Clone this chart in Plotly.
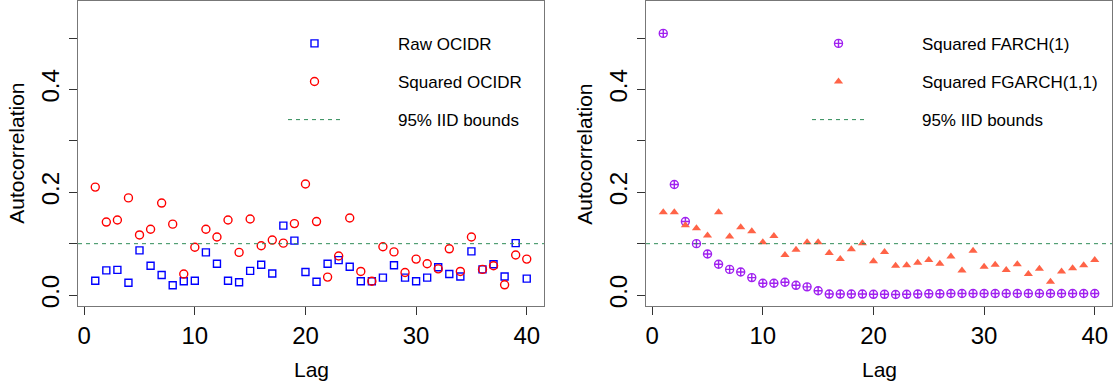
import plotly.graph_objects as go

lags = list(range(1, 41))

raw_ocidr = [0.028, 0.048, 0.049, 0.024, 0.087, 0.057, 0.039, 0.019, 0.027, 0.028,
             0.083, 0.061, 0.028, 0.025, 0.047, 0.059, 0.042, 0.135, 0.106, 0.045,
             0.026, 0.061, 0.068, 0.055, 0.027, 0.027, 0.034, 0.058, 0.034, 0.027,
             0.034, 0.054, 0.041, 0.036, 0.085, 0.050, 0.060, 0.036, 0.101, 0.032]

sq_ocidr = [0.210, 0.142, 0.146, 0.189, 0.117, 0.128, 0.179, 0.138, 0.041, 0.093,
            0.128, 0.113, 0.146, 0.083, 0.148, 0.096, 0.107, 0.101, 0.139, 0.216,
            0.143, 0.035, 0.076, 0.150, 0.046, 0.027, 0.094, 0.084, 0.044, 0.070,
            0.061, 0.051, 0.090, 0.046, 0.113, 0.050, 0.057, 0.020, 0.078, 0.070]

sq_farch = [0.509, 0.215, 0.143, 0.100, 0.080, 0.060, 0.050, 0.045, 0.034, 0.023,
            0.023, 0.025, 0.019, 0.016, 0.0085, 0.002, 0.002, 0.002, 0.002, 0.0015,
            0.0015, 0.0012, 0.0015, 0.002, 0.0025, 0.0025, 0.003, 0.003, 0.003, 0.003,
            0.003, 0.003, 0.003, 0.003, 0.003, 0.003, 0.003, 0.003, 0.003, 0.003]

sq_fgarch = [0.161, 0.161, 0.136, 0.130, 0.116, 0.161, 0.114, 0.132, 0.124, 0.103,
             0.115, 0.078, 0.088, 0.103, 0.103, 0.082, 0.070, 0.089, 0.101, 0.066,
             0.084, 0.057, 0.058, 0.063, 0.068, 0.061, 0.075, 0.048, 0.086, 0.055,
             0.059, 0.049, 0.060, 0.041, 0.051, 0.026, 0.046, 0.052, 0.058, 0.068]

iid_bound = 0.1

y_ticks = [0.0, 0.1, 0.2, 0.3, 0.4, 0.5]
y_ticktext = ["0.0", "", "0.2", "", "0.4", ""]
x_ticks = [0, 10, 20, 30, 40]

# R-style 4% extension of the data range
span = max(lags) - min(lags)
x_range = [min(lags) - 0.04 * span, max(lags) + 0.04 * span]
y_range = [0 - 0.04 * 0.55, 0.55 + 0.04 * 0.55]

W, H = 1113, 385
FONT = "Liberation Sans, Arial, Helvetica, sans-serif"
GREEN = "#2E8B57"
PAD = "\u00a0" * 11  # gap between legend symbol and label, as in the original

fig = go.Figure()

# Left panel
fig.add_trace(go.Scatter(x=lags, y=raw_ocidr, mode="markers", name=PAD + "Raw OCIDR",
                         marker=dict(symbol="square-open", size=7, color="#0000FF", line=dict(width=1.4)),
                         xaxis="x", yaxis="y", legend="legend", legendgroup="a1"))
fig.add_trace(go.Scatter(x=lags, y=sq_ocidr, mode="markers", name=PAD + "Squared OCIDR",
                         marker=dict(symbol="circle-open", size=8, color="#FF0000", line=dict(width=1.4)),
                         xaxis="x", yaxis="y", legend="legend", legendgroup="a2"))
fig.add_trace(go.Scatter(x=x_range, y=[iid_bound, iid_bound], mode="lines", name=PAD + "95% IID bounds",
                         line=dict(color=GREEN, width=1, dash="4px,4px"),
                         xaxis="x", yaxis="y", legend="legend", legendgroup="a3"))

# Right panel
fig.add_trace(go.Scatter(x=lags, y=sq_farch, mode="markers", name=PAD + "Squared FARCH(1)",
                         marker=dict(symbol="circle-cross-open", size=8, color="#A020F0", line=dict(width=1.4)),
                         xaxis="x2", yaxis="y2", legend="legend2", legendgroup="b1"))
fig.add_trace(go.Scatter(x=lags, y=sq_fgarch, mode="markers", name=PAD + "Squared FGARCH(1,1)",
                         marker=dict(symbol="triangle-up", size=8, color="#FF6347", line=dict(width=0)),
                         xaxis="x2", yaxis="y2", legend="legend2", legendgroup="b2"))
fig.add_trace(go.Scatter(x=x_range, y=[iid_bound, iid_bound], mode="lines", name=PAD + "95% IID bounds",
                         line=dict(color=GREEN, width=1, dash="4px,4px"),
                         xaxis="x2", yaxis="y2", legend="legend2", legendgroup="b3"))

ydom = [(H - 308) / H, (H - 1) / H]
xdom1 = [78 / W, 544 / W]
xdom2 = [646 / W, 1112 / W]

axis_common = dict(showline=True, mirror=True, linecolor="#777777", linewidth=1,
                   ticks="outside", ticklen=8, tickcolor="#333333", tickwidth=1,
                   showgrid=False, zeroline=False,
                   tickfont=dict(family=FONT, size=24, color="#000000"))

fig.update_layout(
    width=W, height=H,
    margin=dict(l=0, r=0, t=0, b=0),
    paper_bgcolor="white", plot_bgcolor="white",
    font=dict(family=FONT, color="#000000"),
    xaxis=dict(domain=xdom1, range=x_range, tickvals=x_ticks, anchor="y", **axis_common),
    yaxis=dict(domain=ydom, range=y_range, tickvals=y_ticks, ticktext=y_ticktext,
               tickangle=-90, anchor="x", **axis_common),
    xaxis2=dict(domain=xdom2, range=x_range, tickvals=x_ticks, anchor="y2", **axis_common),
    yaxis2=dict(domain=ydom, range=y_range, tickvals=y_ticks, ticktext=y_ticktext,
                tickangle=-90, anchor="x2", **axis_common),
    legend=dict(x=283 / W, y=(H - 26) / H, xanchor="left", yanchor="top",
                font=dict(family=FONT, size=17, color="#000000"),
                bgcolor="rgba(0,0,0,0)", borderwidth=0, tracegroupgap=13, itemwidth=53),
    legend2=dict(x=807 / W, y=(H - 26) / H, xanchor="left", yanchor="top",
                 font=dict(family=FONT, size=17, color="#000000"),
                 bgcolor="rgba(0,0,0,0)", borderwidth=0, tracegroupgap=13, itemwidth=53),
    showlegend=True,
)

annots = [
    dict(text="Autocorrelation", x=17 / W, y=(H - 154.5) / H, textangle=-90),
    dict(text="Autocorrelation", x=585 / W, y=(H - 154.5) / H, textangle=-90),
    dict(text="Lag", x=311 / W, y=(H - 371) / H, textangle=0),
    dict(text="Lag", x=879 / W, y=(H - 371) / H, textangle=0),
]
for a in annots:
    fig.add_annotation(xref="paper", yref="paper", showarrow=False,
                       xanchor="center", yanchor="middle",
                       font=dict(family=FONT, size=21, color="#000000"), **a)

fig.write_html("out.html")
